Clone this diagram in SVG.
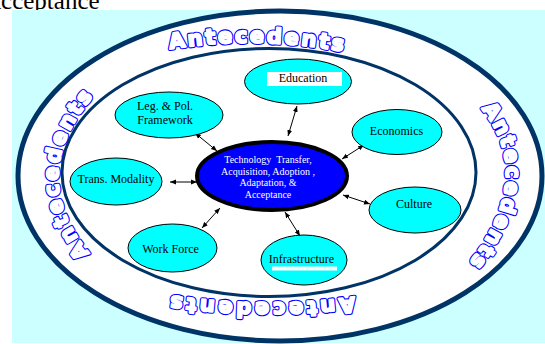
<svg xmlns="http://www.w3.org/2000/svg" width="545" height="344" viewBox="0 0 545 344">
<style>
.node{fill:#00ffff;stroke:#000;stroke-width:1}
.lbl{font-family:"Liberation Serif",serif;font-size:12px;fill:#000;text-anchor:middle}
.ctr{font-family:"Liberation Serif",serif;font-size:10px;fill:#fff;text-anchor:middle;white-space:pre}
.ro,.rf{font-family:"DejaVu Sans",sans-serif;font-weight:bold;font-size:21px;text-anchor:middle;stroke-linejoin:round}
.ro{fill:#0000ff;stroke:#0000ff;stroke-width:4.2}
.rf{fill:#fff;stroke:#fff;stroke-width:2}
.conn line{stroke:#000;stroke-width:1;marker-start:url(#ah);marker-end:url(#ah)}
</style>
<defs>
<marker id="ah" viewBox="0 0 10 10" refX="10" refY="5" markerWidth="6" markerHeight="6" markerUnits="userSpaceOnUse" orient="auto-start-reverse"><path d="M0,1 L10,5 L0,9 z" fill="#000"/></marker>
<path id="arcTop" d="M165,50 Q257,34 350,53"/>
<path id="arcRight" d="M478,105 Q540,175 465,268"/>
<path id="arcBottom" d="M360,296 Q262,310 162,294"/>
<path id="arcLeft" d="M92,256 Q22,175 97,92"/>
</defs>
<text x="-17" y="9" font-family="Liberation Serif, serif" font-size="25" fill="#000">Acceptance</text>
<rect x="12" y="10" width="533" height="333" fill="#ccffff"/>
<g id="rings">
<ellipse cx="280" cy="176" rx="262" ry="165" fill="#fff" stroke="#003366" stroke-width="5"/>
<ellipse cx="269" cy="172.5" rx="207" ry="124" fill="#fff" stroke="#003366" stroke-width="3"/>
</g>
<g id="ring-labels">
<text class="ro" letter-spacing="2.5"><textPath href="#arcTop" startOffset="50%">Antecedents</textPath></text>
<text class="rf" letter-spacing="2.5"><textPath href="#arcTop" startOffset="50%">Antecedents</textPath></text>
<text class="ro" letter-spacing="2"><textPath href="#arcRight" startOffset="50%">Antecedents</textPath></text>
<text class="rf" letter-spacing="2"><textPath href="#arcRight" startOffset="50%">Antecedents</textPath></text>
<text class="ro" letter-spacing="3.5"><textPath href="#arcBottom" startOffset="50%">Antecedents</textPath></text>
<text class="rf" letter-spacing="3.5"><textPath href="#arcBottom" startOffset="50%">Antecedents</textPath></text>
<text class="ro" letter-spacing="2.5"><textPath href="#arcLeft" startOffset="50%">Antecedents</textPath></text>
<text class="rf" letter-spacing="2.5"><textPath href="#arcLeft" startOffset="50%">Antecedents</textPath></text>
</g>
<g class="conn" id="connectors">
<line x1="195" y1="133" x2="217" y2="151"/>
<line x1="297" y1="106" x2="288" y2="136"/>
<line x1="364" y1="145" x2="342" y2="159"/>
<line x1="170" y1="182" x2="197" y2="182"/>
<line x1="202" y1="228" x2="220" y2="208"/>
<line x1="285" y1="212" x2="300" y2="236"/>
<line x1="370" y1="204" x2="343" y2="195"/>
</g>
<g id="center">
<ellipse cx="272" cy="176" rx="75" ry="34" fill="#0000ff" stroke="#000" stroke-width="4"/>
<text class="ctr" x="268" y="163">Technology  Transfer,</text>
<text class="ctr" x="268" y="174.5">Acquisition, Adoption ,</text>
<text class="ctr" x="268" y="186">Adaptation, &amp;</text>
<text class="ctr" x="268" y="197.5">Acceptance</text>
</g>
<g id="education">
<ellipse class="node" cx="298" cy="81.5" rx="53.5" ry="22.5"/>
<rect x="267" y="72" width="75" height="14" fill="#fff"/>
<text class="lbl" x="303" y="82">Education</text>
</g>
<g id="economics">
<ellipse class="node" cx="397" cy="132" rx="45" ry="22.5"/>
<text class="lbl" x="396.5" y="135">Economics</text>
</g>
<g id="culture">
<ellipse class="node" cx="415" cy="210" rx="46" ry="23"/>
<text class="lbl" x="414" y="208">Culture</text>
</g>
<g id="infrastructure">
<ellipse class="node" cx="304" cy="260" rx="43" ry="25"/>
<text class="lbl" x="301.5" y="263">Infrastructure</text>
<rect x="272" y="266.5" width="65" height="4" fill="#fff"/>
</g>
<g id="workforce">
<ellipse class="node" cx="172.5" cy="248" rx="44.5" ry="24"/>
<text class="lbl" x="170.5" y="253">Work Force</text>
</g>
<g id="transmodality">
<ellipse class="node" cx="116" cy="181.5" rx="46" ry="23.5"/>
<text class="lbl" x="116" y="183">Trans. Modality</text>
</g>
<g id="legpol">
<ellipse class="node" cx="169" cy="115" rx="54" ry="23"/>
<text class="lbl" x="165" y="109.5">Leg. &amp; Pol.</text>
<text class="lbl" x="165" y="124">Framework</text>
</g>
</svg>
